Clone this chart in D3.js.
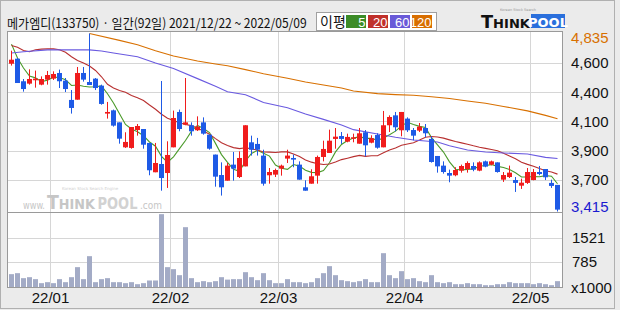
<!DOCTYPE html>
<html><head><meta charset="utf-8">
<script src="https://cdn.jsdelivr.net/npm/d3@7"></script>
<style>body{margin:0;background:#ebebeb}svg{display:block}</style>
</head><body>
<svg id="c" width="620" height="310"></svg>
<script>
const title = "메가엠디(133750) · 일간(92일) 2021/12/22 ~ 2022/05/09";
const dates = ["21/12/22","21/12/23","21/12/24","21/12/27","21/12/28","21/12/29","21/12/30",
"22/01/03","22/01/04","22/01/05","22/01/06","22/01/07","22/01/10","22/01/11","22/01/12","22/01/13","22/01/14",
"22/01/17","22/01/18","22/01/19","22/01/20","22/01/21","22/01/24","22/01/25","22/01/26","22/01/27","22/01/28",
"22/02/03","22/02/04","22/02/07","22/02/08","22/02/09","22/02/10","22/02/11","22/02/14","22/02/15","22/02/16",
"22/02/17","22/02/18","22/02/21","22/02/22","22/02/23","22/02/24","22/02/25","22/02/28",
"22/03/02","22/03/03","22/03/04","22/03/07","22/03/08","22/03/10","22/03/11","22/03/14","22/03/15","22/03/16",
"22/03/17","22/03/18","22/03/21","22/03/22","22/03/23","22/03/24","22/03/25","22/03/28","22/03/29","22/03/30","22/03/31",
"22/04/01","22/04/04","22/04/05","22/04/06","22/04/07","22/04/08","22/04/11","22/04/12","22/04/13","22/04/14",
"22/04/15","22/04/18","22/04/19","22/04/20","22/04/21","22/04/22","22/04/25","22/04/26","22/04/27","22/04/28","22/04/29",
"22/05/02","22/05/03","22/05/04","22/05/06","22/05/09"];
const opens = [4594,4634,4454,4435,4462,4427,4467,4475,4520,4459,4305,4307,4520,4448,4475,4419,4196,4222,4126,3927,
3922,4065,4073,3962,3728,3794,3722,3927,4209,4108,4103,4063,4126,4028,3869,3706,3661,3789,3690,3775,
3967,3954,3861,3704,3709,3757,3837,3842,3789,3608,3637,3701,3850,3882,3994,4017,3972,3999,3956,4047,
3964,4025,3927,4103,4182,4063,4156,4065,4060,4081,3994,3858,3781,3722,3704,3741,3754,3778,3741,3815,
3789,3807,3669,3690,3666,3621,3643,3666,3730,3754,3643,3627];
const highs = [4698,4640,4472,4549,4539,4493,4536,4533,4547,4480,4384,4568,4568,4835,4480,4427,4289,4228,4126,4047,
4089,4113,4073,3962,3962,4456,3975,4220,4228,4480,4126,4174,4166,4028,3869,3807,3802,3890,3895,4103,
4020,4002,3908,3762,3757,3789,3908,3869,3815,3664,3752,3861,3980,4068,4081,4049,4036,4036,4081,4065,
4023,4039,4217,4182,4209,4209,4166,4081,4121,4113,4015,3858,3815,3749,3768,3789,3815,3807,3815,3821,
3821,3807,3730,3781,3690,3677,3762,3754,3778,3754,3669,3627];
const lows = [4579,4440,4371,4427,4403,4422,4427,4464,4400,4368,4196,4307,4451,4424,4384,4267,4156,4092,3956,3922,
3916,4020,3916,3704,3728,3581,3603,3927,4055,4103,4020,4057,4028,3908,3613,3542,3661,3661,3682,3775,
3861,3861,3621,3637,3690,3701,3802,3768,3669,3581,3637,3637,3815,3882,3916,3954,3967,3967,3956,3855,
3959,3916,3927,4049,4055,4015,4049,3983,4049,4007,3805,3725,3717,3648,3696,3725,3725,3736,3736,3768,
3783,3725,3651,3682,3571,3595,3635,3664,3704,3666,3603,3415];
const closes = [4626,4440,4392,4472,4475,4472,4504,4512,4454,4392,4241,4520,4467,4424,4400,4273,4209,4100,3996,3970,
4089,4097,3948,3744,3802,3682,3866,4161,4073,4126,4055,4092,4036,3916,3693,3608,3781,3757,3842,4103,
3908,3908,3637,3730,3746,3781,3861,3829,3669,3581,3696,3850,3914,3980,4012,3994,4010,4007,4039,3943,
3999,3924,4103,4169,4087,4209,4063,4020,4092,4039,3810,3775,3730,3701,3746,3778,3802,3749,3807,3773,
3815,3730,3706,3725,3643,3645,3730,3730,3714,3688,3619,3430];
const volumes = [406,436,284,314,254,132,162,132,254,162,314,619,254,953,162,254,284,162,162,132,
162,101,132,213,213,2231,619,558,375,1835,284,162,193,162,193,314,240,254,254,466,
314,223,436,223,132,132,254,162,162,132,162,284,436,649,375,223,193,162,193,254,
162,162,1044,375,284,497,254,284,193,162,375,162,132,162,101,101,132,101,101,71,
71,101,101,162,132,132,132,101,132,101,71,193];
const ma5Head = [4750,4640,4560,4495];
const ma20Head = [4740,4725,4700,4690,4705,4710,4712,4712,4705,4685,4650,4620,4600,4575,4540,4490,4430,4400,4380];
const ma60Idx = [0,2,6,13,15,17,21,24,27,31,34,36,39,42,46,49,52,55,57,61,64,67,71,73,76,79,82,86,89,91];
const ma60Val = [4680,4690,4704,4704,4695,4680,4650,4600,4555,4475,4414,4370,4347,4285,4243,4193,4150,4105,4068,4033,4007,3986,3970,3940,3905,3890,3882,3874,3847,3838];
const ma120Idx = [13,18,21,24,27,31,34,36,39,42,46,49,52,55,57,61,64,67,70,73,76,79,82,86,89,91];
const ma120Val = [4835,4780,4745,4698,4655,4615,4592,4578,4547,4514,4478,4448,4424,4400,4376,4355,4347,4342,4331,4316,4297,4278,4253,4218,4182,4155];
const priceTicks = [4600,4367,4133,3900,3667];
const priceTickLabels = ["4,600","4,400","4,100","3,900","3,700"];
const volTicks = [1521,785];
const volUnitLabel = "x1000";
const legendTitle = "이평";
const legendLabels = ["5","20","60","120"];

const C = {bg:"#ebebeb", grid:"#d6d6d6", border:"#9a9a9a", up:"#f01c1c", down:"#1e5ae6", vol:"#a3abc6",
  ma:["#4a9a2a","#b83030","#6a5ae0","#d87000"], legend:["#3c8c28","#c0302a","#6a5ad8","#d86e00"]};
const numFont = "'Liberation Sans Narrow','Liberation Sans',Arial,sans-serif";
const krFont = "'Noto Sans CJK KR','Noto Sans',sans-serif";

const svg = d3.select("#c");
const P = {l:7.5, r:562.5, t:31.5, sep:212.5, b:287.5};
svg.append("rect").attr("width",620).attr("height",310).attr("fill",C.bg);
svg.append("rect").attr("x",0.5).attr("y",0.5).attr("width",614).attr("height",308).attr("fill","none").attr("stroke","#b0b0b0");

// place a text at (x, y) and squeeze it horizontally to the given width
function fitText(parent, px, py, width) {
  const t = parent.append("text").attr("x",0).attr("y",0);
  t.fit = () => {
    const w = t.node().getComputedTextLength();
    const s = Math.min(1.2, width / w);
    t.attr("transform", `translate(${px},${py}) scale(${s},1)`);
    return t;
  };
  return t;
}

const idx = d3.range(dates.length);
const x = d3.scaleBand().domain(idx).range([8, 8 + 6*dates.length]).padding(0);
const cx = i => x(i) + 3.5;
const y = d3.scaleLinear().domain([d3.min(lows), d3.max(highs)]).range([211.5, 33.5]);
const yv = d3.scaleLinear().domain([0, 1521]).range([287.5, 237.5]);

svg.append("rect").attr("x",P.l).attr("y",P.t).attr("width",P.r-P.l).attr("height",P.b-P.t).attr("fill","#fff");

// gridlines
const g = svg.append("g");
const monthStarts = idx.filter(i => i>0 && dates[i].slice(0,5) !== dates[i-1].slice(0,5));
g.selectAll("line.v").data(monthStarts).join("line")
  .attr("x1",i=>x(i)+0.5).attr("x2",i=>x(i)+0.5).attr("y1",P.t).attr("y2",P.b)
  .attr("stroke",C.grid);
g.selectAll("line.h").data(priceTicks).join("line")
  .attr("x1",P.l).attr("x2",P.r).attr("y1",d=>Math.round(y(d))+0.5).attr("y2",d=>Math.round(y(d))+0.5)
  .attr("stroke",C.grid);
g.selectAll("line.hv").data(volTicks).join("line")
  .attr("x1",P.l).attr("x2",P.r).attr("y1",d=>Math.round(yv(d))+0.5).attr("y2",d=>Math.round(yv(d))+0.5)
  .attr("stroke",C.grid);

// watermark
const wm = svg.append("g").attr("fill","#c6c6c6").attr("font-family","'DejaVu Sans',sans-serif");
fitText(wm,23,209,22).attr("font-size",10).text("www.").fit();
const wt = fitText(wm,47,209,48).attr("font-weight","bold");
wt.append("tspan").attr("font-size",19).text("T");
wt.append("tspan").attr("font-size",14).text("HINK");
wt.fit();
fitText(wm,97.5,209,40).attr("font-size",16).attr("font-weight","bold").attr("fill","#d2d2d2").text("POOL").fit();
fitText(wm,140,209,22).attr("font-size",10).text(".com").fit();
wm.append("text").attr("x",62).attr("y",189.5).attr("font-size",4).attr("fill","#d0d0d0").text("Korean Stock Search Engine");

// moving averages
const ma5 = idx.map(i => i < 4 ? ma5Head[i] : d3.mean(closes.slice(i-4, i+1)));
const ma20 = idx.map(i => i < 19 ? ma20Head[i] : d3.mean(closes.slice(i-19, i+1)));
const line = d3.line().x(d=>cx(d[0])).y(d=>y(d[1]));
const maSeries = [
  idx.map(i=>[i,ma5[i]]),
  idx.map(i=>[i,ma20[i]]),
  ma60Idx.map((i,k)=>[i,ma60Val[k]]),
  ma120Idx.map((i,k)=>[i,ma120Val[k]])
];
svg.append("g").selectAll("path").data(maSeries).join("path")
  .attr("d",line).attr("fill","none").attr("stroke",(d,k)=>C.ma[k]).attr("stroke-width",1.1);

// candles
const cg = svg.append("g").selectAll("g").data(idx).join("g");
const col = i => closes[i] >= opens[i] ? C.up : C.down;
cg.append("line").attr("x1",cx).attr("x2",cx)
  .attr("y1",i=>y(highs[i])).attr("y2",i=>y(lows[i])).attr("stroke",col).attr("stroke-width",1);
cg.append("rect").attr("x",i=>x(i)+1).attr("width",5)
  .attr("y",i=>y(Math.max(opens[i],closes[i])))
  .attr("height",i=>Math.max(1.5, Math.abs(y(opens[i])-y(closes[i]))))
  .attr("fill",col);

// volume
svg.append("g").selectAll("rect").data(idx).join("rect")
  .attr("x",i=>x(i)+1).attr("width",5)
  .attr("y",i=>yv(volumes[i])).attr("height",i=>yv(0)-yv(volumes[i]))
  .attr("fill",C.vol);

// frame
svg.append("rect").attr("x",P.l).attr("y",P.t).attr("width",P.r-P.l).attr("height",P.b-P.t)
  .attr("fill","none").attr("stroke",C.border);
svg.append("line").attr("x1",P.l).attr("x2",P.r).attr("y1",P.sep).attr("y2",P.sep).attr("stroke",C.border);

// right axis labels
const ax = svg.append("g").attr("font-family",numFont).attr("font-size",15).attr("fill","#111");
ax.selectAll("text.p").data(priceTicks).join("text")
  .attr("x",571).attr("y",d=>y(d)).attr("dy","0.36em").text((d,k)=>priceTickLabels[k]);
const maxP = d3.max(highs), minP = d3.min(lows);
ax.append("text").attr("x",571).attr("y",Math.max(y(maxP),38)).attr("dy","0.36em").attr("fill","#d87000").text(d3.format(",")(maxP));
ax.append("text").attr("x",571).attr("y",Math.min(y(minP),207)).attr("dy","0.36em").attr("fill","#1a1ad0").text(d3.format(",")(minP));
ax.selectAll("text.v").data(volTicks).join("text")
  .attr("x",572).attr("y",d=>yv(d)).attr("dy","0.36em").text(d=>d);
ax.append("text").attr("x",571).attr("y",yv(0)).attr("dy","0.36em").text(volUnitLabel);

// x axis labels
ax.selectAll("text.x").data(monthStarts).join("text")
  .attr("x",i=>x(i)+0.5).attr("y",298).attr("dy","0.36em").attr("text-anchor","middle")
  .text(i=>dates[i].slice(0,5));

// header
fitText(svg,7,28,300).attr("font-family",krFont).attr("font-size",13).attr("fill","#111").text(title).fit();
const lg = svg.append("g");
lg.append("rect").attr("x",316.5).attr("y",12.5).attr("width",120).attr("height",18)
  .attr("fill","#fff").attr("stroke","#a0a0a0");
lg.append("text").attr("x",320).attr("y",27).attr("font-family",krFont).attr("font-size",14).attr("fill","#111").text(legendTitle);
legendLabels.forEach((t,k)=>{
  const bx = 346 + k*22;
  lg.append("rect").attr("x",bx).attr("y",15).attr("width",20).attr("height",13).attr("fill",C.legend[k]);
  lg.append("text").attr("x",bx+19.5).attr("y",26.5).attr("text-anchor","end").attr("font-family",numFont)
    .attr("font-size",13).attr("fill","#fff").text(t);
});
// logo
const lo = svg.append("g").attr("font-family","'DejaVu Sans',sans-serif").attr("font-weight","bold");
lo.append("text").attr("x",500).attr("y",10.5).attr("font-size",3.5).attr("font-weight","normal").attr("fill","#999").text("Korean Stock Search");
const lt = fitText(lo,481,27.5,49).attr("fill","#111");
lt.append("tspan").attr("font-size",17).text("T");
lt.append("tspan").attr("font-size",12.5).text("HINK");
lt.fit();
lo.append("rect").attr("x",531).attr("y",14).attr("width",34).attr("height",14).attr("fill","#2a6fdc");
lo.append("text").attr("x",548).attr("y",26.5).attr("text-anchor","middle").attr("font-size",13).attr("fill","#fff").text("POOL");
</script>
</body></html>
